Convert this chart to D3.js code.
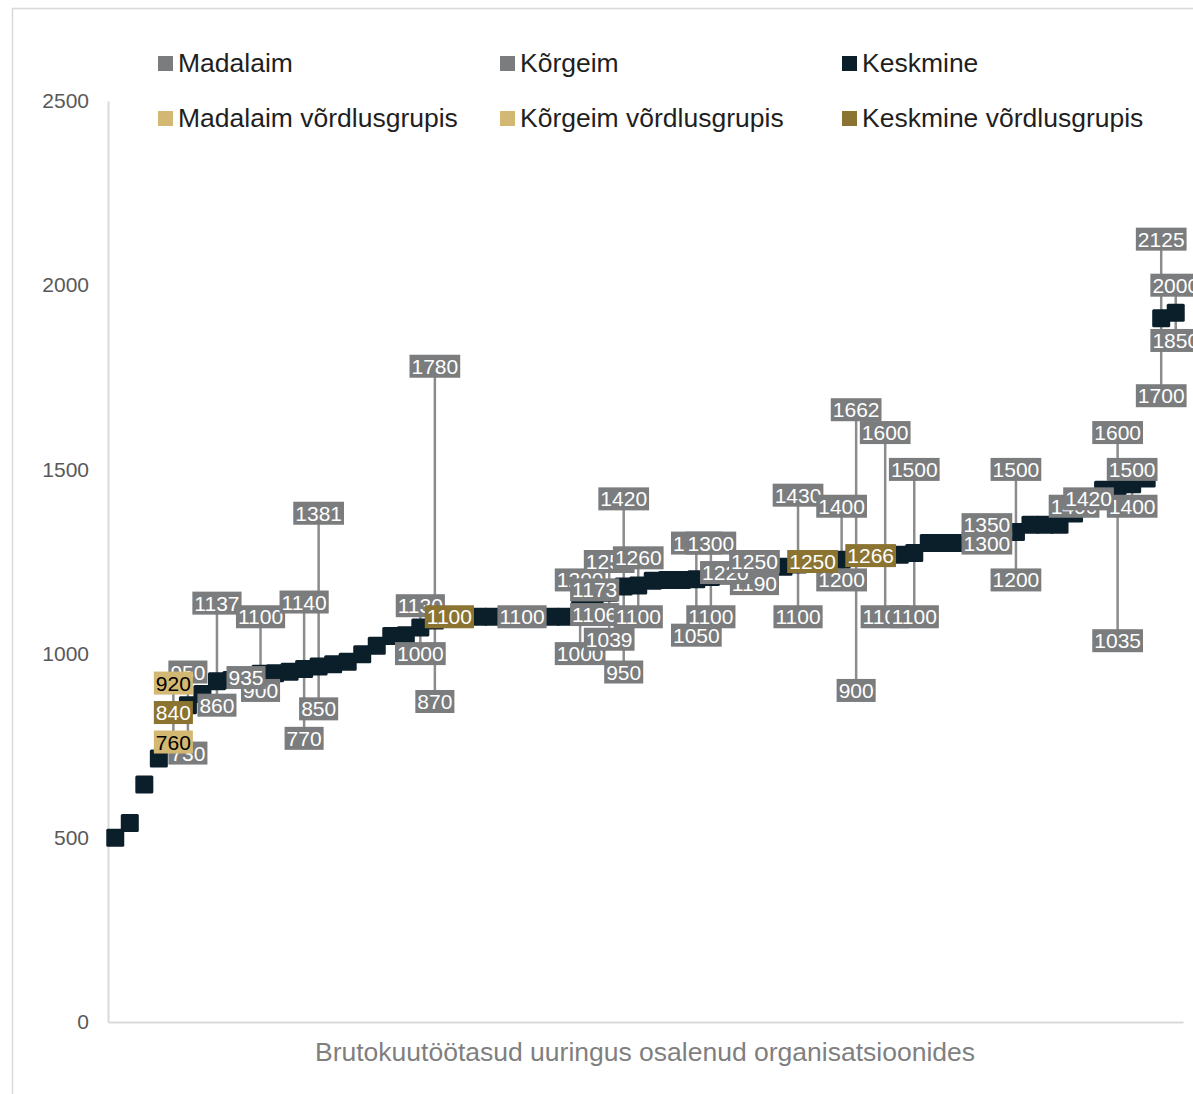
<!DOCTYPE html>
<html><head><meta charset="utf-8">
<script src="https://cdn.jsdelivr.net/npm/d3@7"></script>
<style>
body{margin:0;background:#fff;}
text{font-family:Arial,"Liberation Sans",sans-serif;}
</style>
</head><body>
<svg id="chart" width="1193" height="1094"></svg>
<script>
const N = null;
// Keskmine (average salary per organisation, sorted)
const keskmine = [500,540,645,715,N,860,890,925,928,932,
 945,947,951,958,965,971,978,998,1021,1048,
 1050,1071,1090,N,1100,1100,1100,1100,1100,1100,
 1100,1100,1120,1140,1165,1182,1185,1198,1200,1200,
 1202,1208,1212,1218,1225,1230,1236,1242,N,1250,
 1255,1260,N,1266,1268,1273,1300,1300,1300,1300,
 1310,1320,1330,1350,1350,1350,1380,1410,1445,1455,
 1460,1475,1910,1925];
const madalaim = [N,N,N,N,N,730,N,860,N,N,
 900,N,N,770,850,N,N,N,N,N,
 N,1000,870,N,N,N,N,N,1100,N,
 N,N,1000,1106,1039,950,1100,N,N,N,
 1050,1100,N,N,1190,N,N,1100,N,N,
 1200,900,N,1100,N,1100,N,N,N,N,
 1300,N,1200,N,N,N,N,N,N,1035,
 1400,N,1700,1850];
const korgeim = [N,N,N,N,N,950,N,1137,N,935,
 1100,N,N,1140,1381,N,N,N,N,N,
 N,1130,1780,N,N,N,N,N,N,N,
 N,N,1200,1173,1250,1420,1260,N,N,N,
 1300,1300,1220,N,1250,N,N,1430,N,N,
 1400,1662,N,1600,N,1500,N,N,N,N,
 1350,N,1500,N,N,N,1400,1420,N,1600,
 1500,N,2125,2000];
// comparison group (võrdlusgrupp), keyed by category index
const vgIndex      = [4, 23, 48, 52];
const madalaimVG   = [760, N, N, N];
const korgeimVG    = [920, N, N, N];
const keskmineVG   = [840, 1100, 1250, 1266];
const yTicks = [0, 500, 1000, 1500, 2000, 2500];
const legendNames = ["Madalaim","Kõrgeim","Keskmine","Madalaim võrdlusgrupis","Kõrgeim võrdlusgrupis","Keskmine võrdlusgrupis"];
const legendColors = ["#7a7c7d","#7a7c7d","#0b1f2a","#d3b873","#d3b873","#8b7331"];
const axisTitle = "Brutokuutöötasud uuringus osalenud organisatsioonides";

const categories = keskmine.map((_, i) => i);
const svg = d3.select("#chart");

// outer border
svg.append("rect").attr("x",12.5).attr("y",8.5).attr("width",1300).attr("height",1200)
  .attr("fill","none").attr("stroke","#d9d9d9").attr("stroke-width",1.5);

const x = d3.scaleBand().domain(categories).range([108, 1183]);
const cx = i => x(i) + x.bandwidth()/2;
const y = d3.scaleLinear().domain([0, 2500]).range([1022, 101]);

// y axis
const ya = svg.append("g").attr("transform","translate(108,0)")
  .call(d3.axisLeft(y).tickValues(yTicks).tickFormat(d3.format("d")).tickSize(0).tickPadding(19));
ya.select(".domain").attr("stroke","#d9d9d9").attr("stroke-width",2);
ya.selectAll("text").attr("font-size",21).attr("fill","#595959")
  .attr("font-family","Arial, 'Liberation Sans', sans-serif");

// x axis
const xa = svg.append("g").attr("transform",`translate(0,${y(0)})`)
  .call(d3.axisBottom(x).tickSize(0).tickFormat(""));
xa.select(".domain").attr("stroke","#d9d9d9").attr("stroke-width",2);

svg.append("text").attr("x",645).attr("y",1061).attr("text-anchor","middle")
  .attr("font-size",26.5).attr("fill","#7f7f7f").text(axisTitle);

// build per-category value lists for high-low lines
const vgMap = {};
vgIndex.forEach((ci, k) => vgMap[ci] = [madalaimVG[k], korgeimVG[k], keskmineVG[k]]);
const hiLo = categories.map(i => {
  const vals = [keskmine[i], madalaim[i], korgeim[i], ...(vgMap[i] || [])].filter(v => v != null);
  return {i, lo: d3.min(vals), hi: d3.max(vals)};
}).filter(d => d.hi > d.lo);

svg.append("g").selectAll("line").data(hiLo).join("line")
  .attr("x1", d => cx(d.i)).attr("x2", d => cx(d.i))
  .attr("y1", d => y(d.hi)).attr("y2", d => y(d.lo))
  .attr("stroke","#8c8c8c").attr("stroke-width",2.5);

// mean markers
const ms = 18;
svg.append("g").selectAll("rect")
  .data(categories.filter(i => keskmine[i] != null))
  .join("rect")
  .attr("x", i => cx(i) - ms/2).attr("y", i => y(keskmine[i]) - ms/2)
  .attr("width", ms).attr("height", ms).attr("rx",1.5)
  .attr("fill","#0b1f2a");

// labels
function drawLabels(items, bg, fg) {
  const g = svg.append("g");
  items.forEach(d => {
    const lg = g.append("g").attr("transform", `translate(${cx(d.i)},${y(d.v)})`);
    const r = lg.append("rect").attr("fill", bg);
    const t = lg.append("text").attr("text-anchor","middle").attr("dy","0.36em")
      .attr("font-size",21).attr("fill",fg).text(d.v);
    const w = t.node().getComputedTextLength() + 4;
    const h = 23;
    r.attr("x",-w/2).attr("y",-h/2).attr("width",w).attr("height",h);
  });
}
const toItems = arr => categories.filter(i => arr[i] != null).map(i => ({i, v: arr[i]}));
const vgItems = arr => vgIndex.map((ci,k) => ({i: ci, v: arr[k]})).filter(d => d.v != null);

drawLabels(toItems(madalaim), "#7a7c7d", "#ffffff");
drawLabels(toItems(korgeim), "#7a7c7d", "#ffffff");
drawLabels(vgItems(madalaimVG), "#d3b873", "#000000");
drawLabels(vgItems(korgeimVG), "#d3b873", "#000000");
drawLabels(vgItems(keskmineVG), "#8b7331", "#ffffff");

// legend
const lx = [158, 500, 842], ly = [72, 127];
legendNames.forEach((name, k) => {
  const col = k % 3, row = Math.floor(k / 3);
  svg.append("rect").attr("x", lx[col]).attr("y", ly[row] - 16).attr("width",15).attr("height",15)
    .attr("fill", legendColors[k]);
  svg.append("text").attr("x", lx[col] + 20).attr("y", ly[row]).attr("font-size",26.5)
    .attr("fill","#1f1f1f").text(name);
});
</script>
</body></html>
